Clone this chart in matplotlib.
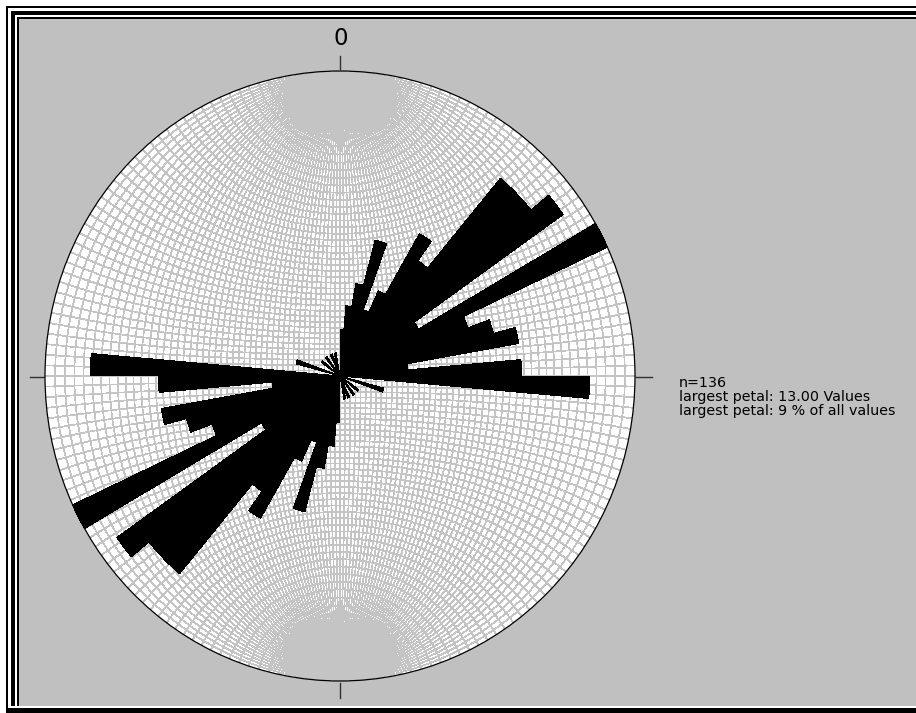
import numpy as np
import matplotlib
matplotlib.use("Agg")
import matplotlib.pyplot as plt
from matplotlib.collections import LineCollection
from matplotlib.patches import Circle, Polygon

# rose diagram data (bidirectional, 5 degree classes from 0 to 180)
bin_width = 5
bin_starts = list(range(0, 180, bin_width))
counts = [2, 3, 4, 6, 3, 4, 7, 6, 11, 11, 12, 4, 13, 6, 7, 8, 3, 8,
          11, 0, 0, 2, 0, 0, 0, 1, 0, 0, 1, 0, 0, 1, 0, 1, 0, 0]
n_values = 136
largest = 13
largest_pct = 9
north_label = "0"

W, H = 916, 713
CX, CY = 340, 376       # net centre in pixels
RX, RY = 295, 305       # net radius in pixels (picture is a bit stretched)
GREY = "#c0c0c0"

fig = plt.figure(figsize=(W / 100, H / 100), dpi=100)
fig.patch.set_facecolor(GREY)

# window frame, drawn pixel by pixel
img = np.full((H, W, 3), 192, dtype=np.uint8)
def band(x0, y0, y1, val):
    img[y0:y1, x0:] = val
band(0, 0, H, 255)
band(6, 6, H, 0)
band(8, 8, 708, 255)
band(11, 11, 706, 0)
band(15, 15, 706, 255)
band(17, 17, 706, 0)
band(19, 19, 706, 192)
fig.figimage(img, xo=0, yo=0, origin="upper", zorder=-10)

# background axes in pixel units: ticks, text
bg = fig.add_axes([0, 0, 1, 1], zorder=1)
bg.set_xlim(0, W)
bg.set_ylim(H, 0)
bg.axis("off")
bg.patch.set_alpha(0)

tick_col = "#303030"
bg.plot([CX, CX], [56, 70], color=tick_col, lw=1.0)
bg.plot([CX, CX], [683, 698], color=tick_col, lw=1.0)
bg.plot([30, 45], [CY + 1, CY + 1], color=tick_col, lw=1.0)
bg.plot([636, 652], [CY + 1, CY + 1], color=tick_col, lw=1.0)

bg.text(CX + 1, 38.5, north_label, fontsize=16.5, ha="center", va="center",
        family="DejaVu Sans", color="black")
info = ["n=%d" % n_values,
        "largest petal: %.2f Values" % largest,
        "largest petal: %d %% of all values" % largest_pct]
for i, s in enumerate(info):
    bg.text(679, 383 + 14 * i, s, fontsize=10.3, ha="left", va="center",
            family="DejaVu Sans", color="black")

# net axes in unit-circle coordinates
ax = fig.add_axes([0, 0, 1, 1], zorder=2)
ax.set_xlim(-CX / RX, (W - CX) / RX)
ax.set_ylim(-(H - CY) / RY, CY / RY)
ax.axis("off")
ax.patch.set_alpha(0)

ax.add_patch(Circle((0, 0), 1, facecolor="white", edgecolor="none", zorder=1))

# Wulff net, 2 degree spacing
segs = []
t = np.radians(np.linspace(-90, 90, 721))
for lam in range(-88, 89, 2):
    l = np.radians(lam)
    lim = 90 if lam % 10 == 0 else 88
    tt = t[np.abs(np.degrees(t)) <= lim + 1e-9]
    d = 1 + np.cos(tt) * np.cos(l)
    segs.append(np.column_stack([np.cos(tt) * np.sin(l) / d, np.sin(tt) / d]))
for phi in range(-88, 89, 2):
    p = np.radians(phi)
    d = 1 + np.cos(p) * np.cos(t)
    segs.append(np.column_stack([np.cos(p) * np.sin(t) / d, np.sin(p) / d]))
ax.add_collection(LineCollection(segs, colors="#c4c4c4", linewidths=0.5,
                                 antialiased=False, snap=False, zorder=2))

# petals
for start, c in zip(bin_starts, counts):
    if c == 0:
        continue
    r = c / largest
    for off in (0, 180):
        a = np.radians(np.linspace(start + off, start + off + bin_width, 15))
        pts = [(0, 0)] + list(zip(r * np.sin(a), r * np.cos(a)))
        ax.add_patch(Polygon(pts, closed=True, facecolor="black", edgecolor="none",
                             antialiased=False, zorder=3))

ax.add_patch(Circle((0, 0), 1, facecolor="none", edgecolor="black", lw=0.9, zorder=4))

fig.savefig("out.png", dpi=100, facecolor=GREY)
